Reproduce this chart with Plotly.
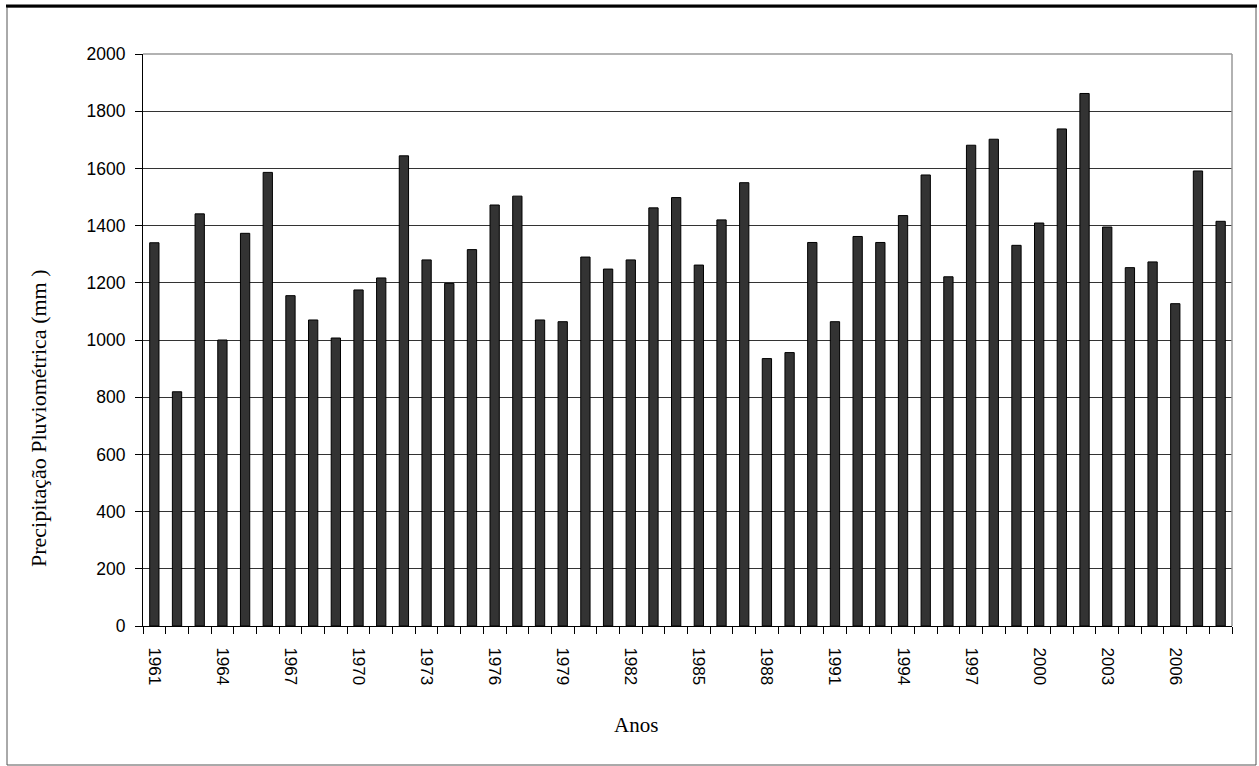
import plotly.graph_objects as go

years = list(range(1961, 2009))
precip = [1340, 819, 1441, 1000, 1373, 1586, 1155, 1070, 1007, 1175,
          1217, 1644, 1280, 1198, 1316, 1472, 1503, 1070, 1064, 1290,
          1248, 1280, 1462, 1498, 1262, 1420, 1550, 935, 956, 1341,
          1064, 1362, 1341, 1435, 1577, 1221, 1681, 1702, 1331, 1409,
          1738, 1862, 1395, 1253, 1273, 1127, 1591, 1415]
label_years = list(range(1961, 2007, 3))
y_ticks = list(range(0, 2001, 200))

W, H = 1259, 766
L, R, T, B = 143, 27, 54, 140
pw, ph = W - L - R, H - T - B

def px_x(x):
    return (x - L) / pw

def px_y(y):
    return (H - B - y) / ph

fig = go.Figure(go.Bar(
    x=years, y=precip,
    marker=dict(color="#333333", line=dict(color="#000000", width=1)),
    width=0.41,
))

fig.update_layout(
    width=W, height=H,
    margin=dict(l=L, r=R, t=T, b=B),
    paper_bgcolor="white", plot_bgcolor="white",
    showlegend=False,
    font=dict(family="Liberation Sans, Arial", color="#000000"),
    xaxis=dict(
        range=[1960.5, 2008.5],
        tickmode="array", tickvals=label_years,
        ticktext=[str(v) for v in label_years],
        tickangle=90, tickfont=dict(size=17, family="Liberation Sans"),
        ticks="outside", ticklen=0, ticklabelstandoff=17,
        showline=True, linecolor="#000000", linewidth=1,
        showgrid=False, zeroline=False,
        minor=dict(tick0=1960.5, dtick=1, ticks="outside", ticklen=7,
                   tickcolor="#000000", tickwidth=1, showgrid=False),
    ),
    yaxis=dict(
        range=[0, 2000],
        tickmode="array", tickvals=y_ticks,
        tickfont=dict(size=17.5, family="Liberation Sans"),
        ticks="outside", ticklen=7, tickcolor="#000000",
        ticklabelstandoff=6,
        showline=True, linecolor="#000000", linewidth=1,
        showgrid=True, gridcolor="#333333", gridwidth=1,
        zeroline=False,
    ),
    annotations=[
        dict(text="Precipitação Pluviométrica (mm )", textangle=-90,
             xref="paper", yref="paper", x=px_x(38), y=px_y(418),
             xanchor="center", yanchor="middle", showarrow=False,
             font=dict(family="Liberation Serif, Times New Roman", size=22, color="#000000")),
        dict(text="Anos",
             xref="paper", yref="paper", x=px_x(636), y=px_y(725),
             xanchor="center", yanchor="middle", showarrow=False,
             font=dict(family="Liberation Serif, Times New Roman", size=21, color="#000000")),
    ],
    shapes=[
        dict(type="line", xref="paper", yref="paper", x0=0, x1=1, y0=1, y1=1,
             line=dict(color="#999999", width=1.5), layer="above"),
        dict(type="line", xref="paper", yref="paper", x0=1, x1=1, y0=0, y1=1,
             line=dict(color="#999999", width=1.5), layer="above"),
        dict(type="rect", xref="paper", yref="paper",
             x0=px_x(7), x1=px_x(1256), y0=px_y(765), y1=px_y(7),
             line=dict(color="#555555", width=1), layer="above"),
        dict(type="line", xref="paper", yref="paper",
             x0=px_x(6), x1=px_x(1257), y0=px_y(6), y1=px_y(6),
             line=dict(color="#000000", width=3), layer="above"),
    ],
)

fig.write_html("out.html", config={"displayModeBar": False},
               post_script="document.body.style.margin='0';document.body.style.overflow='hidden';")
